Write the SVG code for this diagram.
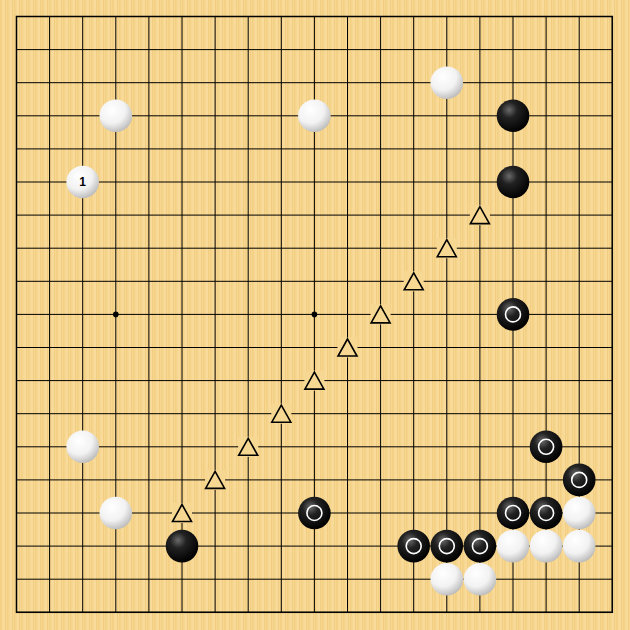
<svg xmlns="http://www.w3.org/2000/svg" xmlns:xlink="http://www.w3.org/1999/xlink" width="630" height="630" viewBox="0 0 630 630">
<defs>
<pattern id="wood" width="7" height="630" patternUnits="userSpaceOnUse">
<rect width="7" height="630" fill="#F7D893"/>
<rect x="0" width="1.5" height="630" fill="#F3CF84"/>
<rect x="3.5" width="1" height="630" fill="#F9DEA2"/>
<rect x="5" width="1" height="630" fill="#F2CC7F"/>
</pattern>
<radialGradient id="bg" cx="0.38" cy="0.32" r="0.7">
<stop offset="0" stop-color="#6a6a6a"/>
<stop offset="0.35" stop-color="#222"/>
<stop offset="1" stop-color="#000"/>
</radialGradient>
<radialGradient id="wg" cx="0.38" cy="0.32" r="0.75">
<stop offset="0" stop-color="#ffffff"/>
<stop offset="0.55" stop-color="#f2f2f2"/>
<stop offset="1" stop-color="#b4b4b4"/>
</radialGradient>
<g id="B"><circle r="16.3" fill="url(#bg)"/></g>
<g id="W"><circle r="16.3" fill="url(#wg)"/></g>
<g id="BC"><circle r="16.3" fill="url(#bg)"/><circle r="7.5" fill="none" stroke="#fff" stroke-width="1.6"/></g>
<g id="T"><rect x="-10" y="-10" width="20" height="20" fill="#F7D893"/><polygon points="0,-8.5 -9.5,8.5 9.5,8.5" fill="none" stroke="#000" stroke-width="1.6"/></g>
</defs>
<style>.grid{stroke:#000;stroke-width:1;fill:none}.num{font-family:"Liberation Sans",Arial,sans-serif;font-size:12px;font-weight:bold;fill:#000;text-anchor:middle}</style>
<rect width="630" height="630" fill="url(#wood)"/>
<g id="connectors">
<path class="grid" d="M16.5,16.5H612.3M16.5,49.6H612.3M16.5,82.7H612.3M16.5,115.8H612.3M16.5,148.9H612.3M16.5,182H612.3M16.5,215.1H612.3M16.5,248.2H612.3M16.5,281.3H612.3M16.5,314.4H612.3M16.5,347.5H612.3M16.5,380.6H612.3M16.5,413.7H612.3M16.5,446.8H612.3M16.5,479.9H612.3M16.5,513H612.3M16.5,546.1H612.3M16.5,579.2H612.3M16.5,612.3H612.3"/>
<path class="grid" d="M16.5,16.5V612.3M49.6,16.5V612.3M82.7,16.5V612.3M115.8,16.5V612.3M148.9,16.5V612.3M182,16.5V612.3M215.1,16.5V612.3M248.2,16.5V612.3M281.3,16.5V612.3M314.4,16.5V612.3M347.5,16.5V612.3M380.6,16.5V612.3M413.7,16.5V612.3M446.8,16.5V612.3M479.9,16.5V612.3M513,16.5V612.3M546.1,16.5V612.3M579.2,16.5V612.3M612.3,16.5V612.3"/>
<rect x="16.5" y="16.5" width="595.8" height="595.8" fill="none" stroke="#000" stroke-width="1.5"/>
<circle cx="115.8" cy="314.4" r="2.8" fill="#000"/>
<circle cx="314.4" cy="314.4" r="2.8" fill="#000"/>
</g>
<g id="triangles">
<use xlink:href="#T" x="479.9" y="215.1"/>
<use xlink:href="#T" x="446.8" y="248.2"/>
<use xlink:href="#T" x="413.7" y="281.3"/>
<use xlink:href="#T" x="380.6" y="314.4"/>
<use xlink:href="#T" x="347.5" y="347.5"/>
<use xlink:href="#T" x="314.4" y="380.6"/>
<use xlink:href="#T" x="281.3" y="413.7"/>
<use xlink:href="#T" x="248.2" y="446.8"/>
<use xlink:href="#T" x="215.1" y="479.9"/>
<use xlink:href="#T" x="182" y="513"/>
</g>
<g id="white-stones">
<use xlink:href="#W" x="446.8" y="82.7"/>
<use xlink:href="#W" x="115.8" y="115.8"/>
<use xlink:href="#W" x="314.4" y="115.8"/>
<use xlink:href="#W" x="82.7" y="446.8"/>
<use xlink:href="#W" x="115.8" y="513"/>
<use xlink:href="#W" x="579.2" y="513"/>
<use xlink:href="#W" x="513" y="546.1"/>
<use xlink:href="#W" x="546.1" y="546.1"/>
<use xlink:href="#W" x="579.2" y="546.1"/>
<use xlink:href="#W" x="446.8" y="579.2"/>
<use xlink:href="#W" x="479.9" y="579.2"/>
</g>
<g id="stone-1">
<use xlink:href="#W" x="82.7" y="182"/>
<text class="num" x="82.7" y="186.3">1</text>
</g>
<g id="black-stones">
<use xlink:href="#B" x="513" y="115.8"/>
<use xlink:href="#B" x="513" y="182"/>
<use xlink:href="#B" x="182" y="546.1"/>
<use xlink:href="#BC" x="513" y="314.4"/>
<use xlink:href="#BC" x="546.1" y="446.8"/>
<use xlink:href="#BC" x="579.2" y="479.9"/>
<use xlink:href="#BC" x="314.4" y="513"/>
<use xlink:href="#BC" x="513" y="513"/>
<use xlink:href="#BC" x="546.1" y="513"/>
<use xlink:href="#BC" x="413.7" y="546.1"/>
<use xlink:href="#BC" x="446.8" y="546.1"/>
<use xlink:href="#BC" x="479.9" y="546.1"/>
</g>
</svg>
